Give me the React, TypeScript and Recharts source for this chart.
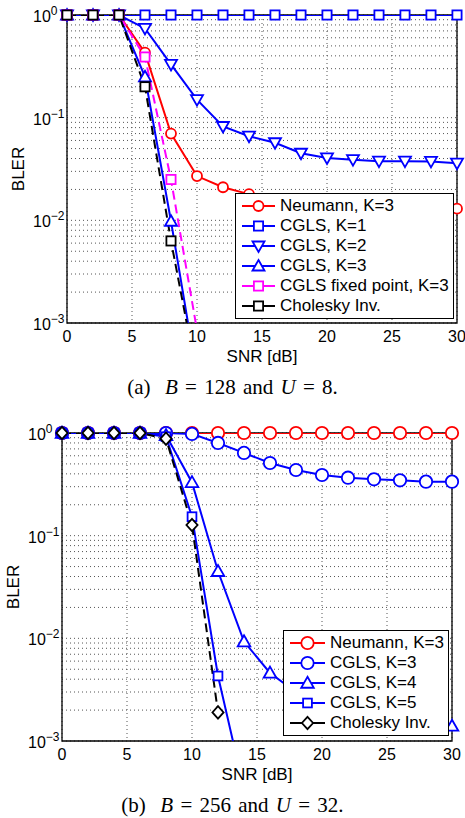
import React from "react";
import { LineChart, Line, XAxis, YAxis, CartesianGrid, ReferenceArea, Legend } from "recharts";

const FONT = '"Liberation Sans", Arial, sans-serif';
const SERIF = '"Liberation Serif", "Times New Roman", serif';

const snr = [0, 2, 4, 6, 8, 10, 12, 14, 16, 18, 20, 22, 24, 26, 28, 30];
const xTicks = [0, 5, 10, 15, 20, 25, 30];
const decades = [0.001, 0.01, 0.1, 1];
const decadeExp = ["\u22123", "\u22122", "\u22121", "0"];
const mantissas = [1, 2, 3, 4, 5, 6, 7, 8, 9];

// (a) B = 128, U = 8
const neumannA = [1, 1, 1, 0.43, 0.07, 0.027, 0.021, 0.018, 0.016, 0.015, 0.014, 0.014, 0.0135, 0.013, 0.013, 0.013];
const cgls1A = [1, 1, 1, 1, 1, 1, 1, 1, 1, 1, 1, 1, 1, 1, 1, 1];
const cgls2A = [1, 1, 1, 0.74, 0.33, 0.15, 0.082, 0.066, 0.057, 0.045, 0.0405, 0.039, 0.0377, 0.0377, 0.0375, 0.036];
const cgls3A = [1, 1, 1, 0.25, 0.0098, 0.0003, null, null, null, null, null, null, null, null, null, null];
const fixedA = [1, 1, 1, 0.39, 0.025, 0.00085, null, null, null, null, null, null, null, null, null, null];
const cholA = [1, 1, 1, 0.2, 0.0063, 0.0003, null, null, null, null, null, null, null, null, null, null];

// (b) B = 256, U = 32
const neumannB = [1, 1, 1, 1, 1, 1, 1, 1, 1, 1, 1, 1, 1, 1, 1, 1];
const cgls3B = [1, 1, 1, 1, 1, 0.98, 0.8, 0.64, 0.51, 0.436, 0.39, 0.367, 0.354, 0.346, 0.336, 0.336];
const cgls4B = [1, 1, 1, 1, 0.95, 0.33, 0.045, 0.0093, 0.0046, 0.003, 0.0024, 0.002, 0.0017, 0.0016, 0.0015, 0.0014];
const cgls5B = [1, 1, 1, 1, 0.92, 0.153, 0.0043, 0.00034, null, null, null, null, null, null, null, null];
const cholB = [1, 1, 1, 1, 0.88, 0.127, 0.0019, null, null, null, null, null, null, null, null, null];

type Shape = "circle" | "square" | "up" | "down" | "diamond";
type Series = { key: string; name: string; color: string; shape: Shape; dashed?: boolean; values: (number | null)[] };

const seriesA: Series[] = [
  { key: "neumann", name: "Neumann, K=3", color: "#ff0000", shape: "circle", values: neumannA },
  { key: "cgls1", name: "CGLS, K=1", color: "#0000ff", shape: "square", values: cgls1A },
  { key: "cgls2", name: "CGLS, K=2", color: "#0000ff", shape: "down", values: cgls2A },
  { key: "cgls3", name: "CGLS, K=3", color: "#0000ff", shape: "up", values: cgls3A },
  { key: "fixed", name: "CGLS fixed point, K=3", color: "#ff00ff", shape: "square", dashed: true, values: fixedA },
  { key: "chol", name: "Cholesky Inv.", color: "#000000", shape: "square", dashed: true, values: cholA },
];

const seriesB: Series[] = [
  { key: "neumann", name: "Neumann, K=3", color: "#ff0000", shape: "circle", values: neumannB },
  { key: "cgls3", name: "CGLS, K=3", color: "#0000ff", shape: "circle", values: cgls3B },
  { key: "cgls4", name: "CGLS, K=4", color: "#0000ff", shape: "up", values: cgls4B },
  { key: "cgls5", name: "CGLS, K=5", color: "#0000ff", shape: "square", values: cgls5B },
  { key: "chol", name: "Cholesky Inv.", color: "#000000", shape: "diamond", dashed: true, values: cholB },
];

const yTicks = decades
  .slice(0, 3)
  .flatMap((d) => mantissas.map((m) => +(d * m).toPrecision(3)))
  .concat([1]);

// markers only drawn where they fall inside the axis range
const buildRows = (series: Series[]) =>
  snr.map((x, i) => {
    const row: any = { snr: x };
    series.forEach((s) => {
      const v = s.values[i];
      row[s.key] = v;
      row[s.key + "_m"] = v != null && v >= 0.001 ? v : null;
    });
    return row;
  });

type Sizes = { circle: number; square: number; tri: number; diamond: number };

function Marker({ cx, cy, shape, color, sizes }: { cx: number; cy: number; shape: Shape; color: string; sizes: Sizes }) {
  const p = { fill: "#fff", stroke: color, strokeWidth: 1.8 };
  if (shape === "circle") return <circle cx={cx} cy={cy} r={sizes.circle} {...p} />;
  if (shape === "square") {
    const h = sizes.square;
    return <rect x={cx - h} y={cy - h} width={2 * h} height={2 * h} {...p} />;
  }
  if (shape === "diamond") {
    const h = sizes.diamond;
    return <polygon points={`${cx},${cy - h} ${cx + h * 0.9},${cy} ${cx},${cy + h} ${cx - h * 0.9},${cy}`} {...p} />;
  }
  const w = sizes.tri;
  const s = shape === "up" ? 1 : -1;
  return (
    <polygon
      points={`${cx},${cy - s * w} ${cx + w},${cy + s * w * 0.75} ${cx - w},${cy + s * w * 0.75}`}
      {...p}
    />
  );
}

function LegendBox({ series, sizes, lineLen }: { series: Series[]; sizes: Sizes; lineLen: number }) {
  return (
    <div
      style={{
        border: "1px solid #000",
        background: "#fff",
        padding: "2px 4px 2px 6px",
        fontFamily: FONT,
        fontSize: 17,
        color: "#000",
      }}
    >
      {series.map((s) => (
        <div key={s.key} style={{ display: "flex", alignItems: "center", height: 20, whiteSpace: "nowrap" }}>
          <svg width={lineLen} height={20} style={{ overflow: "visible" }}>
            <line x1={0} y1={10} x2={lineLen} y2={10} stroke={s.color} strokeWidth={2} />
            <Marker cx={lineLen / 2} cy={10} shape={s.shape} color={s.color} sizes={sizes} />
          </svg>
          <span style={{ marginLeft: 5 }}>{s.name}</span>
        </div>
      ))}
    </div>
  );
}

const XTick = (p: any) => (
  <text x={p.x} y={p.y + 19} textAnchor="middle" fontSize={16} fontFamily={FONT} fill="#000">
    {p.payload.value}
  </text>
);

const YTick = (p: any) => {
  const i = decades.findIndex((d) => Math.abs(p.payload.value / d - 1) < 1e-6);
  if (i < 0) return <g />;
  return (
    <text x={p.x - 34} y={p.y + 7} fontSize={16} fontFamily={FONT} fill="#000">
      10
      <tspan dy={-7} fontSize={12}>
        {decadeExp[i]}
      </tspan>
    </text>
  );
};

const xLabel = (p: any) => {
  const vb = p.viewBox;
  return (
    <text x={vb.x + vb.width / 2} y={vb.y + 39} textAnchor="middle" fontSize={17} fontFamily={FONT} fill="#000">
      SNR [dB]
    </text>
  );
};

const yLabel = (p: any) => {
  const vb = p.viewBox;
  const cx = vb.x + 6;
  const cy = vb.y + vb.height / 2;
  return (
    <text
      x={cx}
      y={cy}
      transform={`rotate(-90, ${cx}, ${cy})`}
      textAnchor="middle"
      dominantBaseline="central"
      fontSize={17}
      fontFamily={FONT}
      fill="#000"
    >
      BLER
    </text>
  );
};

function BlerChart({
  series,
  sizes,
  margin,
  legendPos,
  legendLine,
}: {
  series: Series[];
  sizes: Sizes;
  margin: { top: number; right: number; left: number; bottom: number };
  legendPos: { left: number; top: number };
  legendLine: number;
}) {
  const rows = buildRows(series);
  return (
    <LineChart width={465} height={365} data={rows} margin={margin}>
      <CartesianGrid stroke="#555" strokeDasharray="1 3" strokeWidth={1} />
      <XAxis
        dataKey="snr"
        type="number"
        domain={[0, 30]}
        ticks={xTicks}
        interval={0}
        tickSize={0}
        tickMargin={0}
        tickLine={false}
        axisLine={false}
        tick={XTick}
        height={42}
        label={xLabel}
      />
      <YAxis
        scale="log"
        domain={[0.001, 1]}
        allowDataOverflow
        ticks={yTicks}
        interval={0}
        tickSize={0}
        tickMargin={0}
        tickLine={false}
        axisLine={false}
        tick={YTick}
        width={55}
        label={yLabel}
      />
      <YAxis yAxisId="m" scale="log" domain={[0.001, 1]} hide />
      {series.map((s) => (
        <Line
          key={s.key}
          dataKey={s.key}
          stroke={s.color}
          strokeWidth={2}
          strokeDasharray={s.dashed ? "9 5" : undefined}
          dot={false}
          activeDot={false}
          legendType="none"
          isAnimationActive={false}
        />
      ))}
      {series.map((s) => (
        <Line
          key={s.key + "_m"}
          yAxisId="m"
          dataKey={s.key + "_m"}
          stroke="none"
          dot={(p: any) =>
            p.cx == null || p.cy == null || p.value == null ? (
              <g key={p.index} />
            ) : (
              <Marker key={p.index} cx={p.cx} cy={p.cy} shape={s.shape} color={s.color} sizes={sizes} />
            )
          }
          activeDot={false}
          legendType="none"
          isAnimationActive={false}
        />
      ))}
      <ReferenceArea x1={0} x2={30} y1={0.001} y2={1} fill="none" stroke="#000" strokeWidth={1.3} />
      <Legend
        layout="horizontal"
        verticalAlign="middle"
        align="center"
        wrapperStyle={{ left: legendPos.left, top: legendPos.top, width: "auto" }}
        content={() => <LegendBox series={series} sizes={sizes} lineLen={legendLine} />}
      />
    </LineChart>
  );
}

const captionStyle: React.CSSProperties = {
  position: "absolute",
  left: 0,
  width: 465,
  textAlign: "center",
  fontFamily: SERIF,
  fontSize: 21,
  lineHeight: "21px",
  wordSpacing: 2,
  color: "#000",
};

export default function App() {
  return (
    <div style={{ position: "absolute", left: 0, top: 0, width: 465, height: 818, background: "#fff" }}>
      <div style={{ position: "absolute", left: 0, top: 0 }}>
        <BlerChart
          series={seriesA}
          sizes={{ circle: 5, square: 4.6, tri: 6, diamond: 6 }}
          margin={{ top: 15, right: 8, left: 12, bottom: 0 }}
          legendPos={{ left: 235, top: 193 }}
          legendLine={33}
        />
      </div>
      <div style={{ ...captionStyle, top: 377 }}>
        (a)&nbsp; <i>B</i> = 128 and <i>U</i> = 8.
      </div>
      <div style={{ position: "absolute", left: 0, top: 418 }}>
        <BlerChart
          series={seriesB}
          sizes={{ circle: 6.2, square: 4.4, tri: 6.3, diamond: 6.2 }}
          margin={{ top: 15, right: 13, left: 7, bottom: 0 }}
          legendPos={{ left: 283, top: 212 }}
          legendLine={35}
        />
      </div>
      <div style={{ ...captionStyle, top: 795 }}>
        (b)&nbsp; <i>B</i> = 256 and <i>U</i> = 32.
      </div>
    </div>
  );
}
